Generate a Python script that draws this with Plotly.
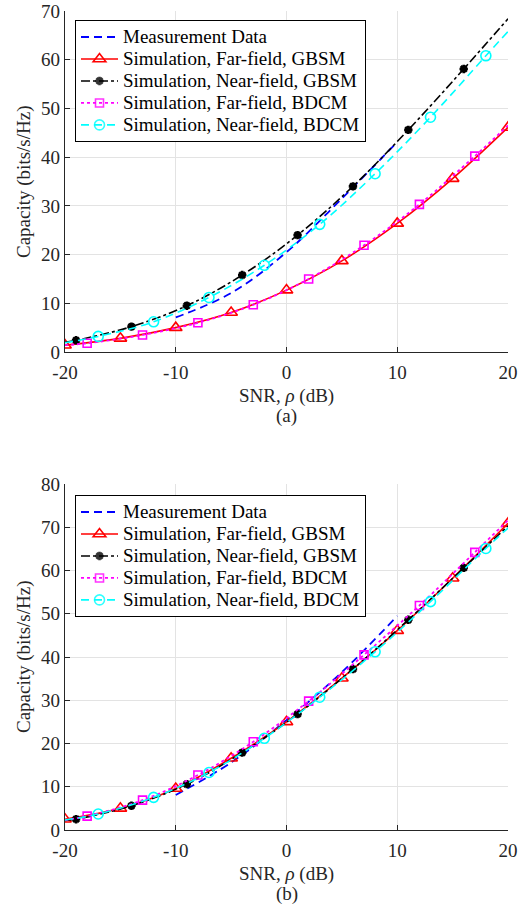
import plotly.graph_objects as go

# ---------------- Data: panel (a) ----------------
snr_meas_a = [-10, -5, 0, 5, 10]
cap_meas_a = [7.1, 12.1, 20.5, 31.5, 43.1]

snr_ff_gbsm_a = [-20, -15, -10, -5, 0, 5, 10, 15, 20]
cap_ff_gbsm_a = [1.4, 2.8, 5.0, 8.1, 12.7, 18.7, 26.4, 35.6, 46.1]

snr_nf_gbsm_a = [-20, -19, -14, -9, -4, 1, 6, 11, 16, 20]
cap_nf_gbsm_a = [2.0, 2.4, 5.2, 9.5, 15.8, 24.0, 34.0, 45.6, 58.1, 68.4]

snr_ff_bdcm_a = [-20, -18, -13, -8, -3, 2, 7, 12, 17, 20]
cap_ff_bdcm_a = [1.4, 1.8, 3.5, 6.0, 9.7, 15.0, 21.9, 30.3, 40.2, 46.5]

snr_nf_bdcm_a = [-20, -17, -12, -7, -2, 3, 8, 13, 18, 20]
cap_nf_bdcm_a = [1.9, 3.2, 6.2, 11.2, 17.8, 26.2, 36.6, 48.2, 60.8, 65.8]

# ---------------- Data: panel (b) ----------------
snr_meas_b = [-10, -5, 0, 5, 10]
cap_meas_b = [8.1, 15.6, 25.4, 36.5, 49.5]

snr_ff_gbsm_b = [-20, -15, -10, -5, 0, 5, 10, 15, 20]
cap_ff_gbsm_b = [2.5, 5.0, 9.6, 16.6, 25.0, 35.1, 46.1, 58.2, 70.9]

snr_nf_gbsm_b = [-20, -19, -14, -9, -4, 1, 6, 11, 16, 20]
cap_nf_gbsm_b = [2.2, 2.5, 5.6, 10.6, 17.9, 26.8, 37.2, 48.6, 60.6, 70.3]

snr_ff_bdcm_b = [-20, -18, -13, -8, -3, 2, 7, 12, 17, 20]
cap_ff_bdcm_b = [2.3, 3.2, 6.9, 12.7, 20.4, 29.8, 40.5, 51.9, 64.2, 71.6]

snr_nf_bdcm_b = [-20, -17, -12, -7, -2, 3, 8, 13, 18, 20]
cap_nf_bdcm_b = [2.3, 3.7, 7.55, 13.3, 21.2, 30.7, 41.2, 52.8, 65.1, 69.8]

names = ["Measurement Data",
         "Simulation, Far-field, GBSM",
         "Simulation, Near-field, GBSM",
         "Simulation, Far-field, BDCM",
         "Simulation, Near-field, BDCM"]

x_ticks = [-20, -10, 0, 10, 20]
x_ticktext = ["-20", "-10", "0", "10", "20"]
y_ticks_a = [0, 10, 20, 30, 40, 50, 60, 70]
y_ticks_b = [0, 10, 20, 30, 40, 50, 60, 70, 80]

FONT = "Liberation Serif"
AXC = "#262626"
TXT = 19

fig = go.Figure()


def marker_opacity(xs):
    # curve end points carry no marker
    op = [1.0] * len(xs)
    op[0] = 0.0
    op[-1] = 0.0
    return op


def lname(n):
    return '<span style="font-size:%dpx">%s</span>' % (TXT, n)


def add_panel(xa, ya, legend, data):
    (mx, my), (fx, fy), (nx, ny), (bx, by), (cx, cy) = data
    common = dict(xaxis=xa, yaxis=ya, legend=legend, line_shape="spline",
                  hoverinfo="x+y")
    fig.add_trace(go.Scatter(x=mx, y=my, mode="lines", name=lname(names[0]),
                             line=dict(color="#0000FF", width=1.8, dash="8px,5px"),
                             **common))
    fig.add_trace(go.Scatter(x=fx, y=fy, mode="lines+markers", name=lname(names[1]),
                             line=dict(color="#FF0000", width=1.6),
                             marker=dict(symbol="triangle-up-open", size=11,
                                         color="#FF0000", line=dict(width=1.6, color="#FF0000")),
                             **common))
    fig.add_trace(go.Scatter(x=nx, y=ny, mode="lines+markers", name=lname(names[2]),
                             line=dict(color="#000000", width=1.6, dash="dashdot"),
                             marker=dict(symbol="asterisk-open", size=7, color="#000000",
                                         opacity=marker_opacity(nx),
                                         line=dict(width=2.6, color="#000000")),
                             **common))
    fig.add_trace(go.Scatter(x=bx, y=by, mode="lines+markers", name=lname(names[3]),
                             line=dict(color="#FF00FF", width=1.8, dash="dot"),
                             marker=dict(symbol="square-open", size=8, color="#FF00FF",
                                         opacity=marker_opacity(bx),
                                         line=dict(width=1.6, color="#FF00FF")),
                             **common))
    fig.add_trace(go.Scatter(x=cx, y=cy, mode="lines+markers", name=lname(names[4]),
                             line=dict(color="#00FFFF", width=1.6, dash="8px,5px"),
                             marker=dict(symbol="circle-open", size=10, color="#00FFFF",
                                         opacity=marker_opacity(cx),
                                         line=dict(width=1.6, color="#00FFFF")),
                             **common))


add_panel("x", "y", "legend", [(snr_meas_a, cap_meas_a), (snr_ff_gbsm_a, cap_ff_gbsm_a),
                               (snr_nf_gbsm_a, cap_nf_gbsm_a), (snr_ff_bdcm_a, cap_ff_bdcm_a),
                               (snr_nf_bdcm_a, cap_nf_bdcm_a)])
add_panel("x2", "y2", "legend2", [(snr_meas_b, cap_meas_b), (snr_ff_gbsm_b, cap_ff_gbsm_b),
                                  (snr_nf_gbsm_b, cap_nf_gbsm_b), (snr_ff_bdcm_b, cap_ff_bdcm_b),
                                  (snr_nf_bdcm_b, cap_nf_bdcm_b)])

H_TOT = 908
T, B = 11, 78
PH = H_TOT - T - B
L, R = 65, 22
PW = 530 - L - R


def py(px):
    return (830 - px) / PH


def pxx(px):
    return (px - L) / PW


axis_common = dict(showgrid=True, gridcolor="#E3E3E3", gridwidth=1,
                   showline=True, linecolor=AXC, linewidth=1.2, mirror=False,
                   ticks="inside", ticklen=5, tickcolor=AXC, tickwidth=1,
                   tickfont=dict(family=FONT, size=TXT, color=AXC),
                   ticklabeloverflow="allow",
                   zeroline=False, fixedrange=True, automargin=False)

legend_common = dict(xanchor="left", yanchor="top",
                     bgcolor="white", bordercolor="#000000", borderwidth=1,
                     font=dict(family=FONT, size=14.6, color="#000000"),
                     tracegroupgap=0, itemwidth=37)

fig.update_layout(
    width=530, height=908,
    margin=dict(l=L, r=R, t=T, b=B, autoexpand=False),
    paper_bgcolor="white", plot_bgcolor="white",
    showlegend=True,
    xaxis=dict(domain=[0, 1], anchor="y", range=[-20, 20], tickvals=x_ticks,
               ticktext=x_ticktext, ticklabelstandoff=3, **axis_common),
    yaxis=dict(domain=[py(352), 1], anchor="x", range=[0, 70], tickvals=y_ticks_a,
               **axis_common),
    xaxis2=dict(domain=[0, 1], anchor="y2", range=[-20, 20], tickvals=x_ticks,
                ticktext=x_ticktext, ticklabelstandoff=3, **axis_common),
    yaxis2=dict(domain=[0, py(484)], anchor="x2", range=[0, 80], tickvals=y_ticks_b,
                **axis_common),
    legend=dict(x=pxx(75), y=py(20), **legend_common),
    legend2=dict(x=pxx(75), y=py(495), **legend_common),
)

ann_font = dict(family=FONT, size=TXT, color=AXC)
annotations = [
    dict(text="SNR, <i>ρ</i> (dB)", x=0.5, y=py(396)),
    dict(text="(a)", x=0.5, y=py(416)),
    dict(text="SNR, <i>ρ</i> (dB)", x=0.5, y=py(874)),
    dict(text="(b)", x=0.5, y=py(894)),
]
for a in annotations:
    fig.add_annotation(xref="paper", yref="paper", xanchor="center", yanchor="middle",
                       showarrow=False, font=ann_font, height=20, borderpad=0, **a)
for yc in [py(182), py(657)]:
    fig.add_annotation(text="Capacity (bits/s/Hz)", xref="paper", yref="paper",
                       x=pxx(24), y=yc, xanchor="center", yanchor="middle",
                       textangle=-90, showarrow=False, font=ann_font)

fig.write_html("out.html")
